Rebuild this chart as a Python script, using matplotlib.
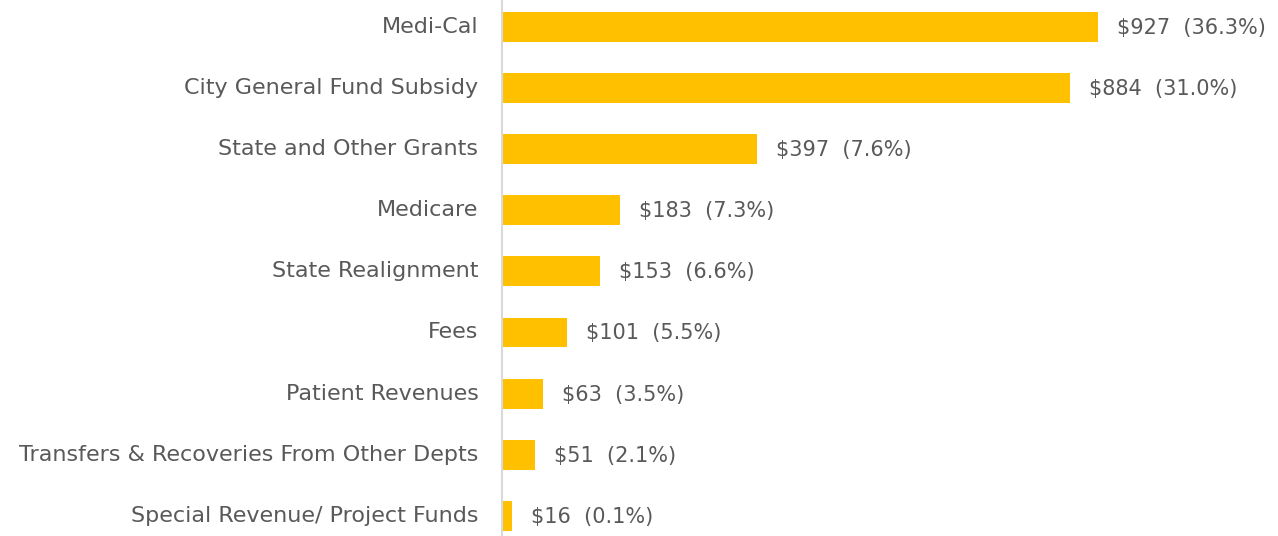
import matplotlib
matplotlib.use("Agg")
import matplotlib.pyplot as plt

categories = [
    "Medi-Cal",
    "City General Fund Subsidy",
    "State and Other Grants",
    "Medicare",
    "State Realignment",
    "Fees",
    "Patient Revenues",
    "Transfers & Recoveries From Other Depts",
    "Special Revenue/ Project Funds",
]
values = [927, 884, 397, 183, 153, 101, 63, 51, 16]
shares = ["36.3%", "31.0%", "7.6%", "7.3%", "6.6%", "5.5%", "3.5%", "2.1%", "0.1%"]

plt.rcParams["font.family"] = ["DejaVu Sans"]
text_color = "#595959"

fig = plt.figure(figsize=(12.78, 5.36), dpi=100)
ax = fig.add_axes([502 / 1278, 0, 1 - 502 / 1278, 1])

y = list(range(len(categories)))
ax.barh(y, values, height=0.49, color="#FFC000")

for yi, v, s in zip(y, values, shares):
    ax.annotate(f"${v}  ({s})", xy=(v, yi), xytext=(19, -1),
                textcoords="offset pixels", va="center", ha="left",
                fontsize=15, color=text_color)

ax.set_xlim(0, 1207)
ax.set_ylim(8.33, -0.44)
ax.set_yticks(y)
ax.set_yticklabels(categories, fontsize=16, color=text_color, va="center")
ax.tick_params(axis="y", length=0, pad=17)
ax.set_xticks([])
for side in ["top", "right", "bottom"]:
    ax.spines[side].set_visible(False)
ax.spines["left"].set_color("#D9D9D9")
ax.spines["left"].set_linewidth(1.5)

fig.savefig("out.png", dpi=100)
